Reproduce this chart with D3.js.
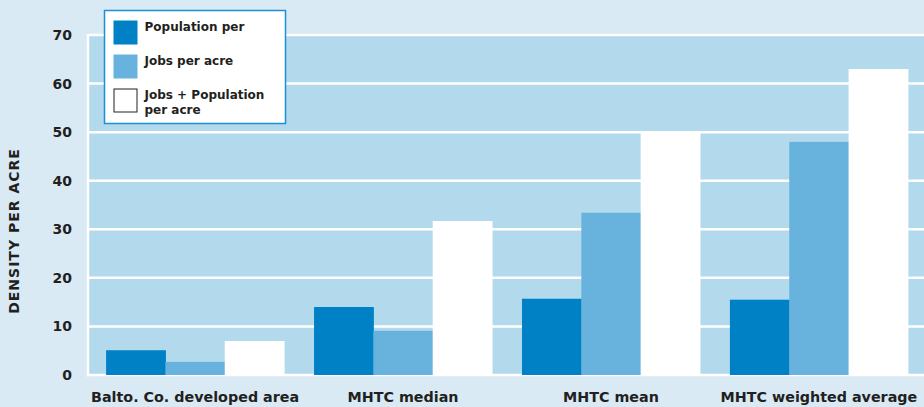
<!DOCTYPE html>
<html>
<head>
<meta charset="utf-8">
<script src="https://cdn.jsdelivr.net/npm/d3@7"></script>
<style>
  body { margin: 0; background: #d9eaf5; }
  svg { display: block; font-family: "DejaVu Sans", sans-serif; font-weight: bold; }
</style>
</head>
<body>
<svg width="924" height="407"></svg>
<script>
// data
const categories = ["Balto. Co. developed area", "MHTC median", "MHTC mean", "MHTC weighted average"];
const seriesNames = ["Population per", "Jobs per acre", "Jobs + Population per acre"];
const population = [5.1, 14.0, 15.7, 15.5];
const jobs = [2.7, 9.1, 33.4, 48.0];
const jobsPlusPop = [7.0, 31.7, 50.0, 63.0];
const yTicks = [0, 10, 20, 30, 40, 50, 60, 70];

const colors = ["#0081c6", "#67b3de", "#ffffff"];

const svg = d3.select("svg");
const width = +svg.attr("width");
const height = +svg.attr("height");

const margin = { top: 35, right: 0, bottom: 32, left: 88 };
const innerHeight = height - margin.top - margin.bottom;

// page background
svg.append("rect").attr("width", width).attr("height", height).attr("fill", "#d9eaf5");

const yScale = d3.scaleLinear().domain([0, 70]).range([margin.top + innerHeight, margin.top]);

const xScale = d3.scaleBand()
  .domain(categories)
  .range([margin.left, 926])
  .paddingInner(0.144)
  .paddingOuter(0.087);

const xSub = d3.scaleBand()
  .domain(seriesNames)
  .range([0, xScale.bandwidth()]);

// plot panel
svg.append("rect")
  .attr("x", margin.left)
  .attr("y", yScale(70))
  .attr("width", width - margin.left)
  .attr("height", yScale(0) - yScale(70))
  .attr("fill", "#b3d9ed");

// grid lines
svg.append("g")
  .selectAll("line")
  .data(yTicks)
  .join("line")
  .attr("x1", margin.left)
  .attr("x2", width)
  .attr("y1", d => yScale(d))
  .attr("y2", d => yScale(d))
  .attr("stroke", "#ffffff")
  .attr("stroke-width", 2.5);

// left white edge of the panel
svg.append("line")
  .attr("x1", margin.left).attr("x2", margin.left)
  .attr("y1", yScale(70) - 1).attr("y2", yScale(0) + 1.5)
  .attr("stroke", "#ffffff")
  .attr("stroke-width", 2.5);

// bars
const rows = categories.map((c, i) => ({
  category: c,
  values: [population[i], jobs[i], jobsPlusPop[i]]
}));

const groups = svg.append("g")
  .selectAll("g")
  .data(rows)
  .join("g")
  .attr("transform", d => `translate(${xScale(d.category)},0)`);

groups.selectAll("rect")
  .data(d => d.values.map((v, j) => ({ name: seriesNames[j], value: v, j: j })))
  .join("rect")
  .attr("x", d => xSub(d.name))
  .attr("y", d => yScale(d.value))
  .attr("width", xSub.bandwidth() + 0.5)
  .attr("height", d => yScale(0) - yScale(d.value))
  .attr("fill", d => colors[d.j]);

// y axis labels
const yAxis = d3.axisLeft(yScale).tickValues(yTicks).tickSize(0).tickPadding(0);
const yAxisG = svg.append("g")
  .attr("transform", `translate(72,0)`)
  .call(yAxis);
yAxisG.select(".domain").remove();
yAxisG.selectAll("text")
  .attr("fill", "#231f20")
  .style("font-size", "14px")
  .style("font-family", "'DejaVu Sans', sans-serif")
  .style("font-weight", "bold");

// x axis labels
const xAxis = d3.axisBottom(xScale).tickSize(0).tickPadding(0);
const xAxisG = svg.append("g")
  .attr("transform", `translate(0,392)`)
  .call(xAxis);
xAxisG.select(".domain").remove();
xAxisG.selectAll("text")
  .attr("fill", "#231f20")
  .attr("dy", "0.71em")
  .style("font-size", "14.3px")
  .style("font-family", "'DejaVu Sans', sans-serif")
  .style("font-weight", "bold");

// y axis title
svg.append("text")
  .attr("transform", `translate(18.5,231) rotate(-90)`)
  .attr("text-anchor", "middle")
  .attr("fill", "#231f20")
  .style("font-size", "14px")
  .style("letter-spacing", "1px")
  .text("DENSITY PER ACRE");

// legend
const legend = svg.append("g").attr("transform", "translate(104.5,10.5)");
legend.append("rect")
  .attr("width", 181)
  .attr("height", 113)
  .attr("fill", "#ffffff")
  .attr("stroke", "#1a90d8")
  .attr("stroke-width", 1.5);

const legendRows = [
  { lines: ["Population per"], y: 10 },
  { lines: ["Jobs per acre"], y: 44 },
  { lines: ["Jobs + Population", "per acre"], y: 78 }
];

legendRows.forEach((r, i) => {
  legend.append("rect")
    .attr("x", i === 2 ? 9.5 : 9)
    .attr("y", i === 2 ? r.y + 0.5 : r.y)
    .attr("width", i === 2 ? 23 : 24)
    .attr("height", i === 2 ? 23 : 24)
    .attr("fill", colors[i])
    .attr("stroke", i === 2 ? "#231f20" : "none")
    .attr("stroke-width", 1);
  const t = legend.append("text")
    .attr("x", 40)
    .attr("y", r.y + 10.5)
    .attr("fill", "#231f20")
    .style("font-size", "12px");
  r.lines.forEach((l, k) => {
    t.append("tspan").attr("x", 40).attr("dy", k === 0 ? 0 : 14.5).text(l);
  });
});
</script>
</body>
</html>
